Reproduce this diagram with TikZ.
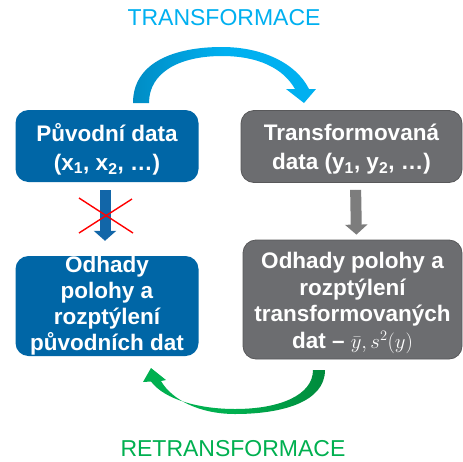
\documentclass[tikz,border=0pt]{standalone}
\usepackage{fontspec}
\setmainfont{Liberation Sans}
\usetikzlibrary{arrows.meta,calc}
\definecolor{boxblue}{RGB}{0,102,166}
\definecolor{boxgray}{RGB}{108,109,112}
\definecolor{boxgrayline}{RGB}{88,88,90}
\definecolor{arrblue}{RGB}{18,102,168}
\definecolor{arrgray}{RGB}{125,125,125}
\definecolor{tcyan}{RGB}{0,176,240}
\definecolor{tcyandark}{RGB}{0,140,196}
\definecolor{tgreen}{RGB}{0,176,80}
\definecolor{tgreendark}{RGB}{0,138,60}
\tikzset{
  boxbase/.style={rounded corners=13pt, inner sep=0pt},
  bluebox/.style={boxbase, fill=boxblue},
  graybox/.style={boxbase, fill=boxgray, draw=boxgrayline, line width=0.8pt},
  boxtext/.style={align=center, text=white, inner sep=0pt,
    font=\fontsize{22.5}{27}\selectfont\bfseries},
  toptext/.style={boxtext, font=\fontsize{22.5}{29}\selectfont\bfseries},
  downarrow/.style={line width=11pt, -{Triangle[width=22pt,length=10pt]}},
  titletext/.style={font=\fontsize{23}{27}\selectfont}
}
\begin{document}
\begin{tikzpicture}[x=1pt,y=-1pt]
\useasboundingbox (0,0) rectangle (463,461);
\fill[white] (0,0) rectangle (463,461);

% boxes
\node[bluebox, minimum width=183pt, minimum height=72pt] (ltop) at (107,146) {};
\node[graybox, minimum width=221pt, minimum height=72pt] (rtop) at (351.5,146.5) {};
\node[bluebox, minimum width=183pt, minimum height=100pt] (lbot) at (107,306) {};
\node[graybox, minimum width=219pt, minimum height=119pt] (rbot) at (352.5,299.5) {};

% box texts
\node[toptext] (ltoptxt) at ([yshift=-3pt]ltop.center)
  {Původní data\\(x\textsubscript{1}, x\textsubscript{2}, …)};
\node[toptext] (rtoptxt) at ([yshift=-2.5pt]rtop.center)
  {Transformovaná\\data (y\textsubscript{1}, y\textsubscript{2}, …)};
\node[boxtext, font=\fontsize{22.5}{26}\selectfont\bfseries] (lbottxt) at (lbot.center)
  {Odhady\\polohy a\\rozptýlení\\původních dat};
\node[boxtext, font=\fontsize{22.5}{26.5}\selectfont\bfseries] (rbottxt) at ([yshift=-3.5pt]rbot.center)
  {Odhady polohy a\\rozptýlení\\transformovaných\\dat – $\bar{y}, s^2(y)$};

% titles
\node[titletext, text=tcyan] (ttrans) at (224,18) {TRANSFORMACE};
\node[titletext, text=tgreen] (tretrans) at (233,449) {RETRANSFORMACE};

% straight arrows
\draw[downarrow, draw=arrblue, fill=arrblue, shorten <=8pt, shorten >=15pt]
  ([xshift=-2pt]ltop.south) -- ([xshift=-2pt]lbot.north);
\draw[red, line width=1.4pt] (79,198) -- (133,233);
\draw[red, line width=1.4pt] (79,233) -- (132,199);
\draw[downarrow, draw=arrgray, fill=arrgray, shorten <=7pt, shorten >=5pt]
  ([xshift=4pt]rtop.south) -- ([xshift=4pt]rbot.north);

% curved transform arrow
\shade[left color=tcyandark, right color=tcyan, middle color=tcyan]
  (133,103) .. controls (133,62) and (175,47) .. (222,47)
  .. controls (262,47) and (296,63) .. (309,89)
  -- (316,89) -- (304,103) -- (286,89) -- (295,89)
  .. controls (283,68) and (258,56) .. (222,56)
  .. controls (180,56) and (149,72) .. (149,103) -- cycle;

% curved retransform arrow
\shade[left color=tgreen, right color=tgreendark, middle color=tgreen]
  (325,370) .. controls (325,402) and (282,414) .. (235,414)
  .. controls (200,414) and (172,400) .. (161,381)
  -- (166,380) -- (151,368) -- (143,382) -- (151,381.5)
  .. controls (165,400) and (200,409) .. (235,409)
  .. controls (280,409) and (313,395) .. (313,370) -- cycle;
\end{tikzpicture}
\end{document}
